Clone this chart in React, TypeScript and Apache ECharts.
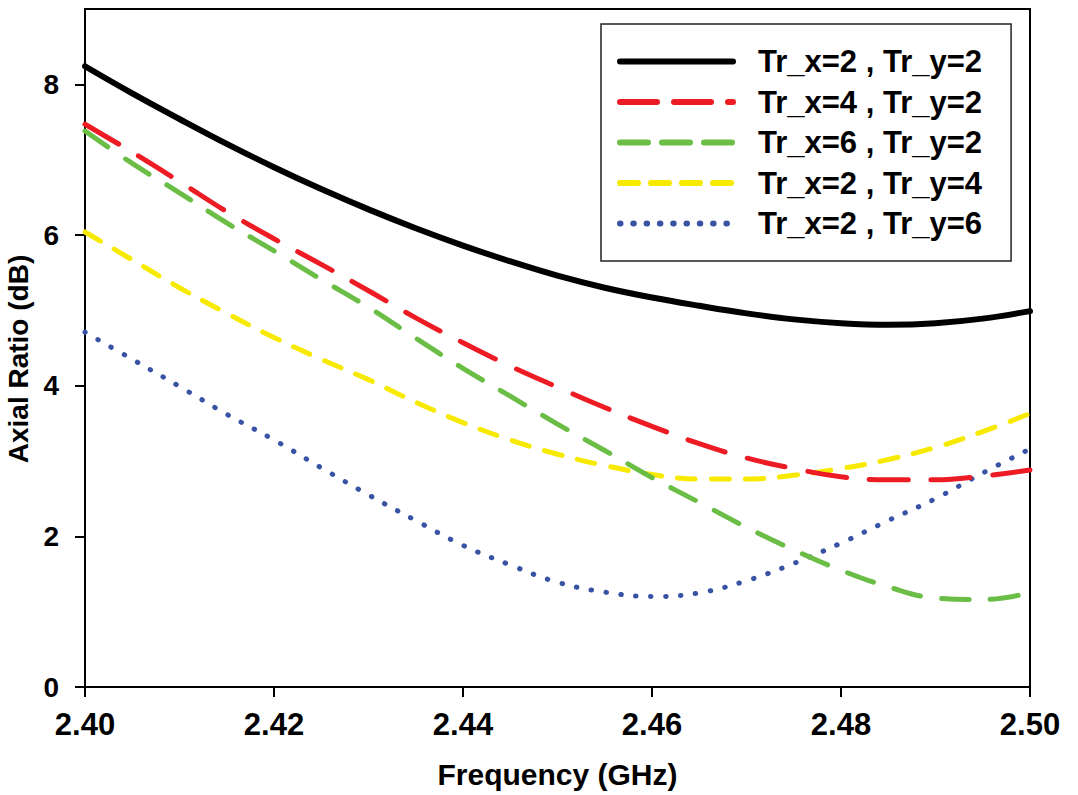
import React, { useEffect, useRef } from "react";
import * as echarts from "echarts";

const freqs = [
  2.400, 2.405, 2.410, 2.415, 2.420, 2.425, 2.430, 2.435, 2.440, 2.445, 2.450,
  2.455, 2.460, 2.465, 2.470, 2.475, 2.480, 2.485, 2.490, 2.495, 2.500,
];
const seriesNames = [
  "Tr_x=2 , Tr_y=2",
  "Tr_x=4 , Tr_y=2",
  "Tr_x=6 , Tr_y=2",
  "Tr_x=2 , Tr_y=4",
  "Tr_x=2 , Tr_y=6",
];
const tx2ty2 = [8.24, 7.88, 7.54, 7.21, 6.90, 6.61, 6.34, 6.09, 5.86, 5.65, 5.46, 5.30, 5.17, 5.06, 4.96, 4.88, 4.83, 4.81, 4.83, 4.89, 4.99];
const tx4ty2 = [7.47, 7.10, 6.71, 6.31, 5.95, 5.61, 5.26, 4.90, 4.57, 4.26, 3.98, 3.71, 3.46, 3.23, 3.04, 2.90, 2.79, 2.75, 2.75, 2.80, 2.88];
const tx6ty2 = [7.38, 6.95, 6.56, 6.16, 5.79, 5.41, 5.04, 4.63, 4.23, 3.86, 3.49, 3.14, 2.78, 2.45, 2.12, 1.82, 1.55, 1.33, 1.18, 1.16, 1.25];
const tx2ty4 = [6.04, 5.67, 5.30, 4.96, 4.64, 4.35, 4.08, 3.78, 3.51, 3.28, 3.09, 2.94, 2.82, 2.76, 2.76, 2.81, 2.90, 3.02, 3.18, 3.39, 3.63];
const tx2ty6 = [4.71, 4.35, 3.99, 3.62, 3.28, 2.91, 2.55, 2.21, 1.88, 1.62, 1.39, 1.26, 1.20, 1.25, 1.41, 1.64, 1.91, 2.21, 2.50, 2.84, 3.16];
const yTicks = [0, 2, 4, 6, 8];
const xTicks = [2.40, 2.42, 2.44, 2.46, 2.48, 2.50];

const allValues = [tx2ty2, tx4ty2, tx6ty2, tx2ty4, tx2ty6];
const colors = ["#000000", "#ed1c24", "#6abd45", "#f7ea00", "#3953a4"];
const widths = [6, 5, 5, 5, 5];
const dashes: any[] = ["solid", [39, 23], [28, 21], [18, 16], [0.5, 14.5]];
const legendDashes: any[] = ["solid", [37, 17], [28, 14], [18, 13], [0.5, 12.8]];

const font = "Arial, 'Liberation Sans', Helvetica, sans-serif";

export default function App() {
  const ref = useRef<HTMLDivElement>(null);
  useEffect(() => {
    if (!ref.current) return;
    const chart = echarts.init(ref.current, undefined, { renderer: "svg" });
    const series = allValues.map((vals, i) => ({
      name: seriesNames[i],
      type: "line",
      data: vals.map((v, j) => [freqs[j], v]),
      smooth: 0.4,
      showSymbol: false,
      symbol: "none",
      lineStyle: {
        color: colors[i],
        width: widths[i],
        type: dashes[i],
        cap: "round",
      },
      itemStyle: { color: colors[i] },
      z: 10 - i,
    }));
    chart.setOption({
      animation: false,
      backgroundColor: "#ffffff",
      grid: {
        left: 85,
        top: 9,
        right: 48,
        bottom: 108,
        containLabel: false,
        outerBoundsMode: "none",
        show: true,
        borderColor: "#000",
        borderWidth: 2,
        backgroundColor: "transparent",
      },
      legend: {
        data: seriesNames.map((n, i) => ({
          name: n,
          lineStyle: {
            color: colors[i],
            width: 6,
            type: legendDashes[i],
            cap: "round",
          },
          itemStyle: { opacity: 0, color: "transparent", borderWidth: 0 },
        })),
        orient: "vertical",
        left: 601,
        top: 24,
        padding: [22, 29, 22, 16],
        itemGap: 9.5,
        itemWidth: 113,
        itemHeight: 14,
        borderColor: "#222",
        borderWidth: 1.5,
        backgroundColor: "#fff",
        itemStyle: { opacity: 0, color: "transparent", borderWidth: 0 },
        textStyle: {
          fontFamily: font,
          fontWeight: "bold",
          fontSize: 31,
          lineHeight: 31,
          color: "#000",
          padding: [0, 0, 0, 20],
        },
      },
      xAxis: {
        type: "value",
        min: 2.40,
        max: 2.50,
        interval: 0.02,
        name: "Frequency (GHz)",
        nameLocation: "middle",
        nameGap: 72,
        nameTextStyle: {
          fontFamily: font,
          fontWeight: "bold",
          fontSize: 30,
          color: "#000",
        },
        axisLine: { show: true, lineStyle: { color: "#000", width: 2 } },
        axisTick: {
          show: true,
          inside: false,
          length: 10,
          lineStyle: { color: "#000", width: 2 },
          customValues: xTicks,
        },
        axisLabel: {
          fontFamily: font,
          fontWeight: "bold",
          fontSize: 31,
          color: "#000",
          margin: 22,
          customValues: xTicks,
          formatter: (v: number) => v.toFixed(2),
        },
        splitLine: { show: false },
      },
      yAxis: {
        type: "value",
        min: 0,
        max: 9,
        interval: 2,
        name: "Axial Ratio (dB)",
        nameLocation: "middle",
        nameGap: 48,
        nameTextStyle: {
          fontFamily: font,
          fontWeight: "bold",
          fontSize: 28,
          color: "#000",
          padding: [0, 22, 0, 0],
        },
        axisLine: { show: true, lineStyle: { color: "#000", width: 2 } },
        axisTick: {
          show: true,
          inside: false,
          length: 10,
          lineStyle: { color: "#000", width: 2 },
          customValues: yTicks,
        },
        axisLabel: {
          fontFamily: font,
          fontWeight: "bold",
          fontSize: 28,
          color: "#000",
          margin: 26,
          customValues: yTicks,
        },
        splitLine: { show: false },
      },
      series,
    });
    return () => chart.dispose();
  }, []);
  return (
    <div
      ref={ref}
      style={{ position: "fixed", left: 0, top: 0, width: 1078, height: 795, background: "#fff" }}
    />
  );
}
